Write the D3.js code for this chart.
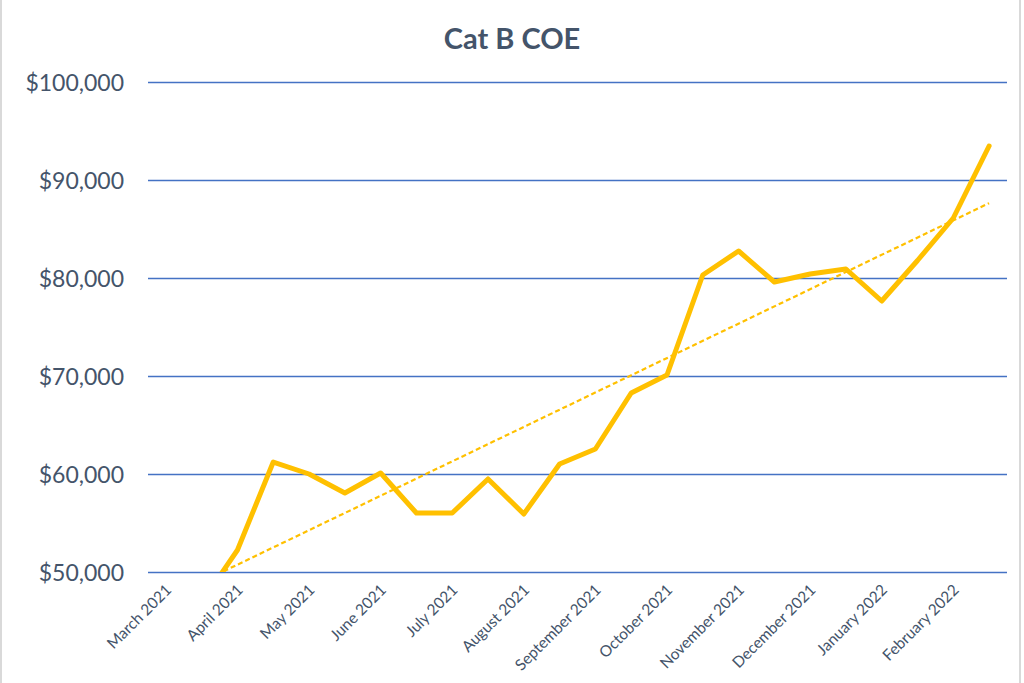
<!DOCTYPE html>
<html>
<head>
<meta charset="utf-8">
<script src="https://cdn.jsdelivr.net/npm/d3@7"></script>
<style>
  body { margin: 0; background: #fff; }
  svg { display: block; font-family: Lato, "Open Sans", sans-serif; }
</style>
</head>
<body>
<div id="chart"></div>
<script>
// month labels (one tick label per month) and the two bidding rounds per month
var months = ["March 2021", "April 2021", "May 2021", "June 2021", "July 2021", "August 2021",
  "September 2021", "October 2021", "November 2021", "December 2021", "January 2022", "February 2022"];
var rounds = ["1st", "2nd"];

// Cat B COE premium for each bidding
var coe = [47600, 46900, 52245, 61224, 60000, 58061, 60102, 56020, 56020, 59490, 55918, 61020,
  62551, 68265, 70102, 80306, 82755, 79592, 80408, 80918, 77653, 81786, 86122, 93469];

var yTicks = [50000, 60000, 70000, 80000, 90000, 100000];

var biddings = [];
months.forEach(function(m) {
  rounds.forEach(function(r) { biddings.push(m + " " + r); });
});
var data = biddings.map(function(b, i) { return {key: b, value: coe[i], i: i}; });

var W = 1024, H = 683;
var plot = {left: 148, right: 1007, top: 82, bottom: 572};

var svg = d3.select("#chart").append("svg")
  .attr("width", W)
  .attr("height", H);

// light frame round the chart
svg.append("rect")
  .attr("x", 1).attr("y", -5)
  .attr("width", 1019).attr("height", H + 10)
  .attr("fill", "none")
  .attr("stroke", "#d9d9d9")
  .attr("stroke-width", 2);

var x = d3.scalePoint()
  .domain(biddings)
  .range([plot.left, plot.right])
  .padding(0.5);

var y = d3.scaleLinear()
  .domain([50000, 100000])
  .range([plot.bottom, plot.top]);

// gridlines
svg.append("g")
  .selectAll("line")
  .data(yTicks)
  .enter()
  .append("line")
  .attr("x1", plot.left)
  .attr("x2", plot.right)
  .attr("y1", function(d) { return y(d) + 0.5; })
  .attr("y2", function(d) { return y(d) + 0.5; })
  .attr("stroke", "#4472c4")
  .attr("stroke-width", 1.3);

// y axis labels
var yAxis = svg.append("g")
  .attr("transform", "translate(" + (plot.left - 24) + ",0)")
  .call(d3.axisLeft(y).tickValues(yTicks).tickSize(0).tickPadding(0)
    .tickFormat(function(d) { return "$" + d3.format(",")(d); }));
yAxis.attr("font-family", null).attr("font-size", null);
yAxis.select(".domain").remove();
yAxis.selectAll("text")
  .attr("fill", "#44546a")
  .style("font-size", "23px")
  .attr("dy", "0.35em");

// x axis labels, one per month on the first bidding
var xAxis = svg.append("g")
  .attr("transform", "translate(0," + plot.bottom + ")")
  .call(d3.axisBottom(x)
    .tickValues(biddings.filter(function(b, i) { return i % 2 === 0; }))
    .tickSize(0)
    .tickFormat(function(d) { return d.replace(/ (1st|2nd)$/, ""); }));
xAxis.attr("font-family", null).attr("font-size", null);
xAxis.select(".domain").remove();
xAxis.selectAll("text")
  .attr("fill", "#44546a")
  .style("font-size", "15.5px")
  .attr("text-anchor", "end")
  .attr("dy", null)
  .attr("y", 0)
  .attr("transform", "translate(6,19) rotate(-45)");

// clip to the plot area, like the original
svg.append("clipPath").attr("id", "plotclip")
  .append("rect")
  .attr("x", plot.left).attr("y", plot.top - 40)
  .attr("width", plot.right - plot.left)
  .attr("height", plot.bottom - plot.top + 40);

var g = svg.append("g").attr("clip-path", "url(#plotclip)");

// linear trendline over all biddings
var n = data.length;
var mx = d3.mean(data, function(d) { return d.i; });
var my = d3.mean(data, function(d) { return d.value; });
var sxy = d3.sum(data, function(d) { return (d.i - mx) * (d.value - my); });
var sxx = d3.sum(data, function(d) { return (d.i - mx) * (d.i - mx); });
var slope = sxy / sxx;
var icpt = my - slope * mx;
var trend = [data[0], data[n - 1]].map(function(d) {
  return {key: d.key, value: icpt + slope * d.i};
});

var line = d3.line()
  .x(function(d) { return x(d.key); })
  .y(function(d) { return y(d.value); });

g.append("path")
  .datum(trend)
  .attr("d", line)
  .attr("fill", "none")
  .attr("stroke", "#ffc000")
  .attr("stroke-width", 2.2)
  .attr("stroke-dasharray", "5,3");

g.append("path")
  .datum(data)
  .attr("d", line)
  .attr("fill", "none")
  .attr("stroke", "#ffc000")
  .attr("stroke-width", 5)
  .attr("stroke-linejoin", "round")
  .attr("stroke-linecap", "round");

// title
svg.append("text")
  .attr("x", 512)
  .attr("y", 49)
  .attr("text-anchor", "middle")
  .attr("fill", "#44546a")
  .style("font-size", "29px")
  .style("font-weight", "bold")
  .text("Cat B COE");
</script>
</body>
</html>
